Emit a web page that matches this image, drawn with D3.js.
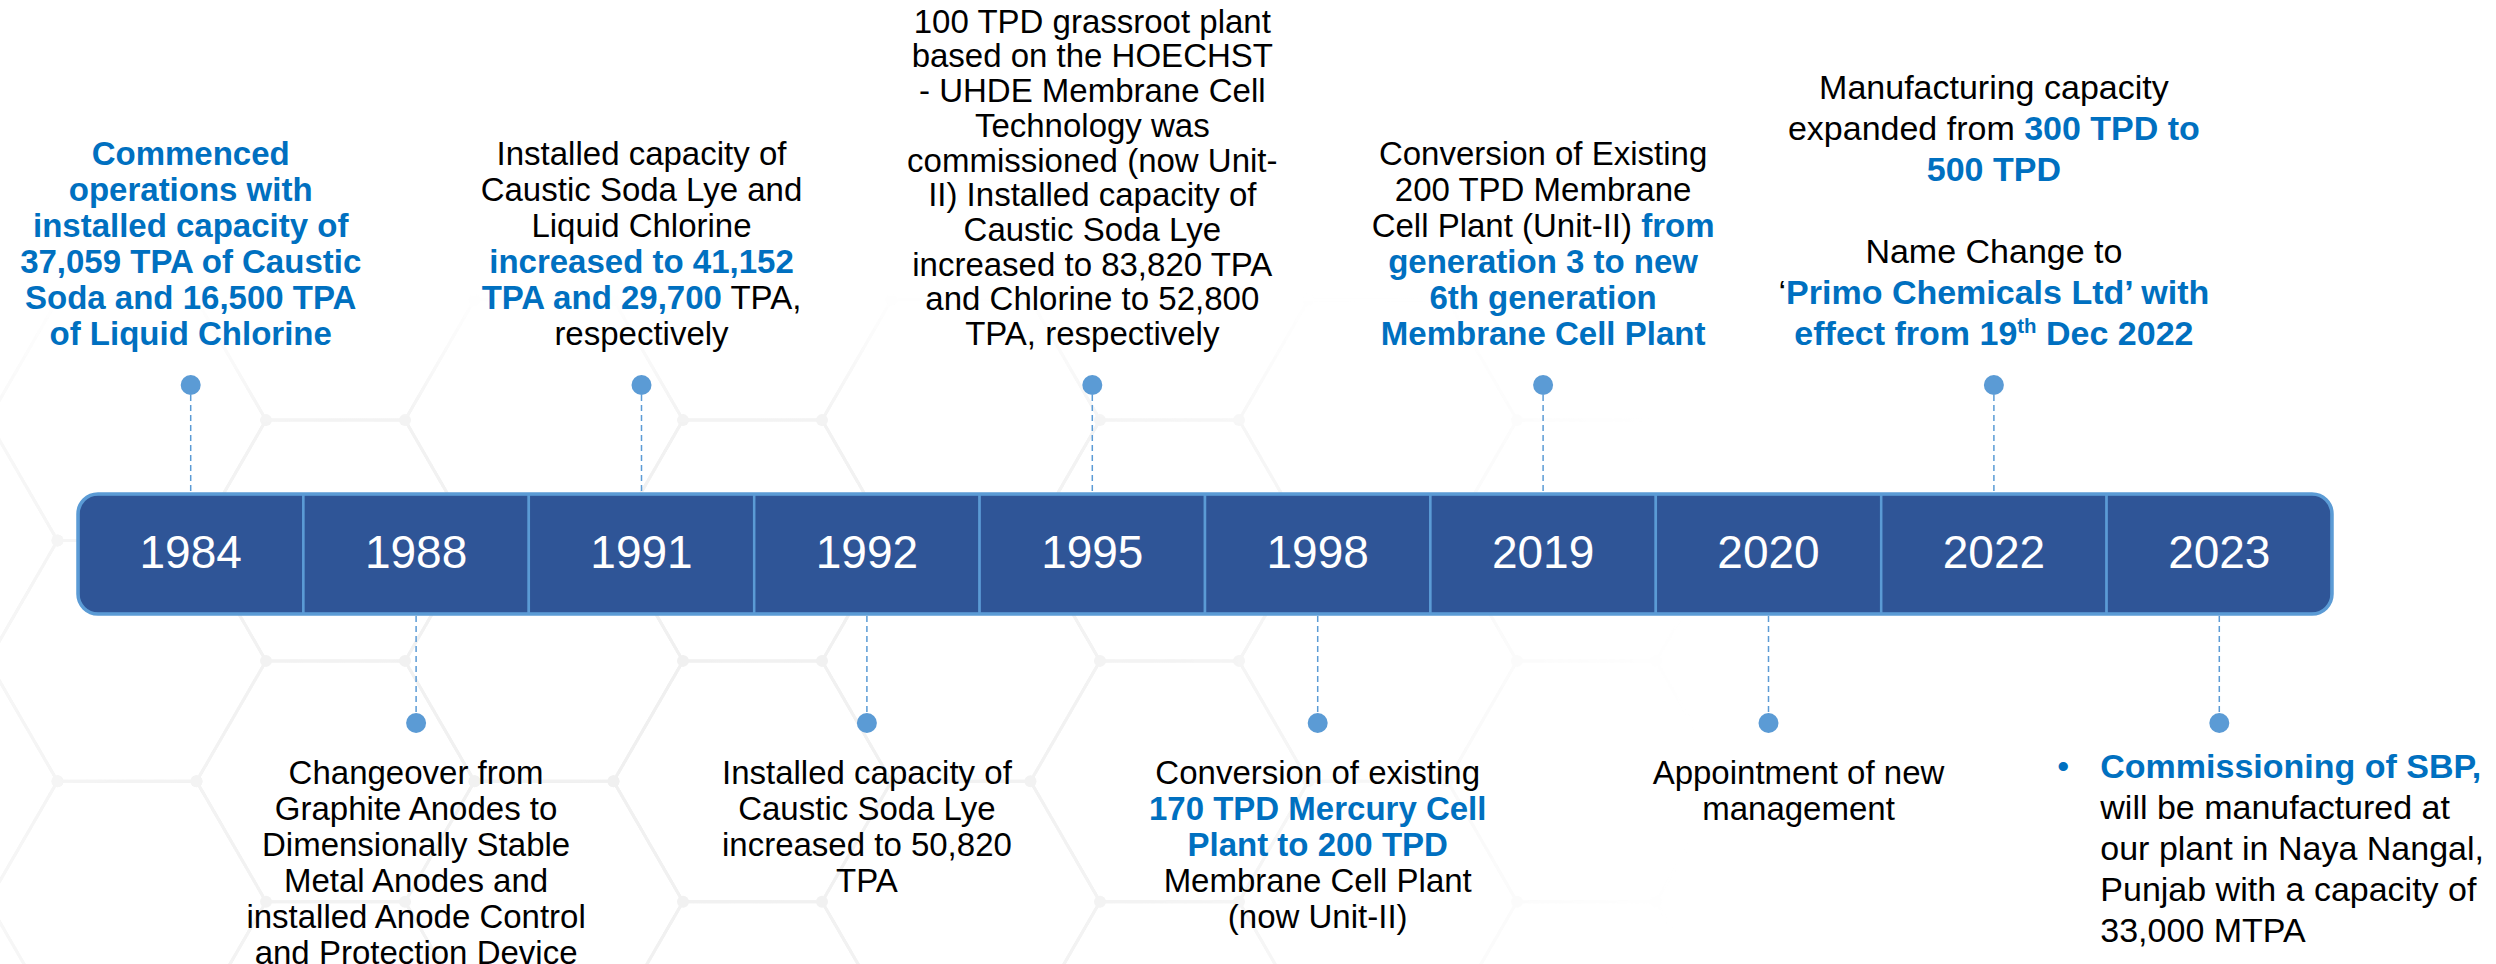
<!DOCTYPE html>
<html>
<head>
<meta charset="utf-8">
<script src="https://d3js.org/d3.v7.min.js"></script>
<style>
    body { margin: 0; background: #fff; }
    text { font-family: "Liberation Sans", Arial, sans-serif; }
</style>
</head>
<body>
<div id="chart"></div>
<script>
    // timeline data
    var years = ["1984", "1988", "1991", "1992", "1995", "1998", "2019", "2020", "2022", "2023"];
    var sides = ["top", "bottom", "top", "bottom", "top", "bottom", "top", "bottom", "top", "bottom"];

    // *...* = blue bold, ^...^ = superscript
    var note1984 = ["*Commenced*", "*operations with*", "*installed capacity of*", "*37,059 TPA of Caustic*", "*Soda and 16,500 TPA*", "*of Liquid Chlorine*"];
    var note1988 = ["Changeover from", "Graphite Anodes to", "Dimensionally Stable", "Metal Anodes and", "installed Anode Control", "and Protection Device"];
    var note1991 = ["Installed capacity of", "Caustic Soda Lye and", "Liquid Chlorine", "*increased to 41,152*", "*TPA and 29,700* TPA,", "respectively"];
    var note1992 = ["Installed capacity of", "Caustic Soda Lye", "increased to 50,820", "TPA"];
    var note1995 = ["100 TPD grassroot plant", "based on the HOECHST", "- UHDE Membrane Cell", "Technology was", "commissioned (now Unit-", "II) Installed capacity of", "Caustic Soda Lye", "increased to 83,820 TPA", "and Chlorine to 52,800", "TPA, respectively"];
    var note1998 = ["Conversion of existing", "*170 TPD Mercury Cell*", "*Plant to 200 TPD*", "Membrane Cell Plant", "(now Unit-II)"];
    var note2019 = ["Conversion of Existing", "200 TPD Membrane", "Cell Plant (Unit-II) *from*", "*generation 3 to new*", "*6th generation*", "*Membrane Cell Plant*"];
    var note2020 = ["Appointment of new", "management"];
    var note2022 = ["Manufacturing capacity", "expanded from *300 TPD to*", "*500 TPD*", "", "Name Change to", "\u2018*Primo Chemicals Ltd\u2019 with*", "*effect from 19^th^ Dec 2022*"];
    var note2023 = ["*Commissioning of SBP,*", "will be manufactured at", "our plant in Naya Nangal,", "Punjab with a capacity of", "33,000 MTPA"];

    var notes = [note1984, note1988, note1991, note1992, note1995, note1998, note2019, note2020, note2022, note2023];

    // text block layout tweaks
    var layout = {
        "1995": { lh: 34.7 },
        "2020": { dx: 30 },
        "2022": { fs: 34, lh: 41 },
        "2023": { fs: 34, lh: 41, anchor: "start", dx: -119, top: 778, bullet: true }
    };

    var W = 2496, H = 964;
    var barTop = 494, barBottom = 614;
    var topDotY = 385, bottomDotY = 723;
    var blue = "#0070C0", dotBlue = "#5B9BD5", barFill = "#2F5597";

    var svg = d3.select("#chart").append("svg")
        .attr("width", W)
        .attr("height", H);

    var defs = svg.append("defs");

    // ---- faint hexagon background, fading out to the top and right ----
    var rg = defs.append("radialGradient").attr("id", "hexFade")
        .attr("gradientUnits", "userSpaceOnUse")
        .attr("cx", 650).attr("cy", 720).attr("r", 1050);
    rg.append("stop").attr("offset", 0).attr("stop-color", "#fff");
    rg.append("stop").attr("offset", 0.5).attr("stop-color", "#ccc");
    rg.append("stop").attr("offset", 1).attr("stop-color", "#000");
    var lg = defs.append("linearGradient").attr("id", "topFade")
        .attr("gradientUnits", "userSpaceOnUse")
        .attr("x1", 0).attr("y1", 290).attr("x2", 0).attr("y2", 430);
    lg.append("stop").attr("offset", 0).attr("stop-color", "#000").attr("stop-opacity", 1);
    lg.append("stop").attr("offset", 1).attr("stop-color", "#000").attr("stop-opacity", 0);
    var mask = defs.append("mask").attr("id", "hexMask")
        .attr("maskUnits", "userSpaceOnUse")
        .attr("x", 0).attr("y", 0).attr("width", W).attr("height", H);
    mask.append("rect").attr("width", W).attr("height", H).attr("fill", "url(#hexFade)");
    mask.append("rect").attr("width", W).attr("height", H).attr("fill", "url(#topFade)");

    var s = 139, x0 = 335.5, y0 = 540.5;
    var hexes = [];
    for (var i = -2; i < 14; i++) {
        for (var j = -3; j < 4; j++) {
            var cx = x0 + 1.5 * s * i;
            var cy = y0 + Math.sqrt(3) * s * (j + (Math.abs(i) % 2) / 2);
            hexes.push([cx, cy]);
        }
    }
    var verts = {};
    var hexG = svg.append("g").attr("mask", "url(#hexMask)");
    hexG.selectAll("path.hex")
        .data(hexes)
        .enter().append("path")
        .attr("class", "hex")
        .attr("d", function(c) {
            var pts = d3.range(6).map(function(k) {
                var a = Math.PI / 3 * k;
                var p = [c[0] + s * Math.cos(a), c[1] + s * Math.sin(a)];
                verts[Math.round(p[0]) + "," + Math.round(p[1])] = p;
                return p;
            });
            return "M" + pts.join("L") + "Z";
        })
        .attr("fill", "none")
        .attr("stroke", "#f0f0f0")
        .attr("stroke-width", 3);
    hexG.selectAll("circle")
        .data(Object.values(verts))
        .enter().append("circle")
        .attr("cx", function(d) { return d[0]; })
        .attr("cy", function(d) { return d[1]; })
        .attr("r", 6)
        .attr("fill", "#f0f0f0");

    // ---- timeline bar ----
    var x = d3.scaleBand().domain(years).range([78, 2332]);
    var mid = function(d) { return x(d) + x.bandwidth() / 2; };

    defs.append("clipPath").attr("id", "barClip")
        .append("rect")
        .attr("x", x.range()[0]).attr("y", barTop)
        .attr("width", x.range()[1] - x.range()[0]).attr("height", barBottom - barTop)
        .attr("rx", 20);

    svg.append("g").attr("clip-path", "url(#barClip)")
        .selectAll("rect")
        .data(years)
        .enter().append("rect")
        .attr("x", function(d) { return x(d); })
        .attr("y", barTop)
        .attr("width", x.bandwidth())
        .attr("height", barBottom - barTop)
        .attr("fill", barFill)
        .attr("stroke", dotBlue)
        .attr("stroke-width", 2.5);

    svg.append("rect")
        .attr("x", x.range()[0]).attr("y", barTop)
        .attr("width", x.range()[1] - x.range()[0]).attr("height", barBottom - barTop)
        .attr("rx", 20)
        .attr("fill", "none")
        .attr("stroke", dotBlue)
        .attr("stroke-width", 3.5);

    svg.append("g").selectAll("text")
        .data(years)
        .enter().append("text")
        .attr("x", mid)
        .attr("y", 568)
        .attr("text-anchor", "middle")
        .attr("fill", "#fff")
        .attr("font-size", 46)
        .text(function(d) { return d; });

    // ---- connectors and dots ----
    var conn = svg.append("g");
    conn.selectAll("line")
        .data(years)
        .enter().append("line")
        .attr("x1", mid).attr("x2", mid)
        .attr("y1", function(d, i) { return sides[i] === "top" ? topDotY : barBottom + 2; })
        .attr("y2", function(d, i) { return sides[i] === "top" ? barTop - 2 : bottomDotY; })
        .attr("stroke", dotBlue)
        .attr("stroke-width", 1.5)
        .attr("stroke-dasharray", "6,4");
    conn.selectAll("circle")
        .data(years)
        .enter().append("circle")
        .attr("cx", mid)
        .attr("cy", function(d, i) { return sides[i] === "top" ? topDotY : bottomDotY; })
        .attr("r", 10)
        .attr("fill", dotBlue);

    // ---- notes ----
    var noteG = svg.append("g");
    years.forEach(function(yr, i) {
        var lines = notes[i];
        var opt = layout[yr] || {};
        var fs = opt.fs || 33, lh = opt.lh || 36;
        var anchor = opt.anchor || "middle";
        var tx = mid(yr) + (opt.dx || 0);
        var firstY = sides[i] === "top" ? 345 - (lines.length - 1) * lh : (opt.top || 784);

        if (opt.bullet) {
            noteG.append("text")
                .attr("x", tx - 37).attr("y", firstY)
                .attr("text-anchor", "middle")
                .attr("font-size", fs)
                .attr("fill", blue)
                .text("\u2022");
        }

        lines.forEach(function(line, k) {
            var t = noteG.append("text")
                .attr("x", tx)
                .attr("y", firstY + k * lh)
                .attr("text-anchor", anchor)
                .attr("font-size", fs)
                .attr("fill", "#000");
            var shift = 0;
            line.split("*").forEach(function(part, b) {
                part.split("^").forEach(function(piece, p) {
                    if (!piece) return;
                    var sup = p % 2 === 1;
                    var want = sup ? -12 : 0;
                    var ts = t.append("tspan")
                        .text(piece)
                        .attr("font-weight", b % 2 ? "bold" : "normal")
                        .attr("fill", b % 2 ? blue : "#000")
                        .attr("font-size", sup ? fs * 0.6 : fs);
                    if (want !== shift) { ts.attr("dy", want - shift); shift = want; }
                });
            });
        });
    });
</script>
</body>
</html>
